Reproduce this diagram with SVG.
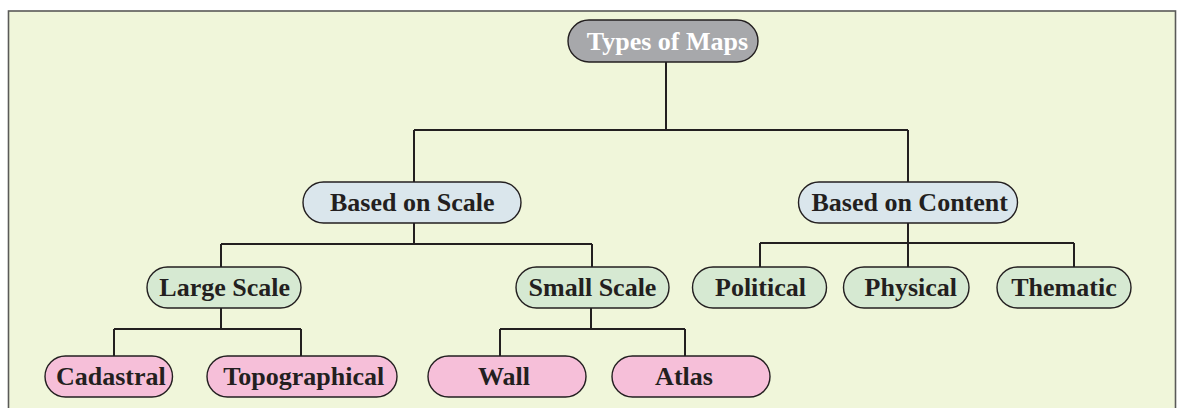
<svg xmlns="http://www.w3.org/2000/svg" width="1180" height="408" viewBox="0 0 1180 408">
<style>
.n{stroke:#231F20;stroke-width:1.4}
.t{font-family:"Liberation Serif","Times New Roman",serif;font-weight:bold;font-size:26px;fill:#231F20;text-anchor:middle}
.top{fill:#A7A8AB}
.blue{fill:#DAE6EC}
.green{fill:#D6E9D2}
.pink{fill:#F6BFD9}
.c{fill:none;stroke:#231F20;stroke-width:2}
</style>
<rect x="0" y="0" width="1180" height="408" fill="#FFFFFF"/>
<rect x="8.5" y="11" width="1167" height="410" fill="#F0F6DA" stroke="#5A5A58" stroke-width="1.6"/>
<g id="connectors">
<path class="c" d="M666 62V130M414 130H908M414 130V182M908 130V182"/>
<path class="c" d="M414 223V244M221 244H592M221 244V267M592 244V267"/>
<path class="c" d="M908 223V243M760 243H1074M760 243V267M908 243V267M1074 243V267"/>
<path class="c" d="M221 308V329M114 329H301M114 329V356M301 329V356"/>
<path class="c" d="M591 308V329M500 329H685M500 329V356M685 329V356"/>
</g>
<g id="types">
<rect class="n top" x="568" y="20" width="190" height="42" rx="21"/>
<text class="t" x="667.5" y="50" fill="#FFFFFF" style="fill:#FFFFFF">Types of Maps</text>
</g>
<g id="scale">
<rect class="n blue" x="303" y="182" width="218" height="41" rx="20.5"/>
<text class="t" x="412.3" y="211">Based on Scale</text>
</g>
<g id="content">
<rect class="n blue" x="798.5" y="182" width="219" height="41" rx="20.5"/>
<text class="t" x="909.7" y="211">Based on Content</text>
</g>
<g id="large">
<rect class="n green" x="147" y="267" width="154" height="41" rx="20.5"/>
<text class="t" x="224.7" y="295.5">Large Scale</text>
</g>
<g id="small">
<rect class="n green" x="516" y="267" width="153" height="41" rx="20.5"/>
<text class="t" x="592.5" y="295.5">Small Scale</text>
</g>
<g id="political">
<rect class="n green" x="692.5" y="267" width="134" height="41" rx="20.5"/>
<text class="t" x="760.5" y="295.5">Political</text>
</g>
<g id="physical">
<rect class="n green" x="843.5" y="267" width="125.5" height="41" rx="20.5"/>
<text class="t" x="910.8" y="295.5">Physical</text>
</g>
<g id="thematic">
<rect class="n green" x="997" y="267" width="134" height="41" rx="20.5"/>
<text class="t" x="1064" y="295.5">Thematic</text>
</g>
<g id="cadastral">
<rect class="n pink" x="45" y="356" width="127.5" height="41" rx="20.5"/>
<text class="t" x="110.8" y="385">Cadastral</text>
</g>
<g id="topographical">
<rect class="n pink" x="207" y="356" width="190" height="41" rx="20.5"/>
<text class="t" x="303.8" y="385">Topographical</text>
</g>
<g id="wall">
<rect class="n pink" x="428" y="356" width="158" height="41" rx="20.5"/>
<text class="t" x="504" y="385">Wall</text>
</g>
<g id="atlas">
<rect class="n pink" x="612" y="356" width="158" height="41" rx="20.5"/>
<text class="t" x="684" y="385">Atlas</text>
</g>
</svg>
